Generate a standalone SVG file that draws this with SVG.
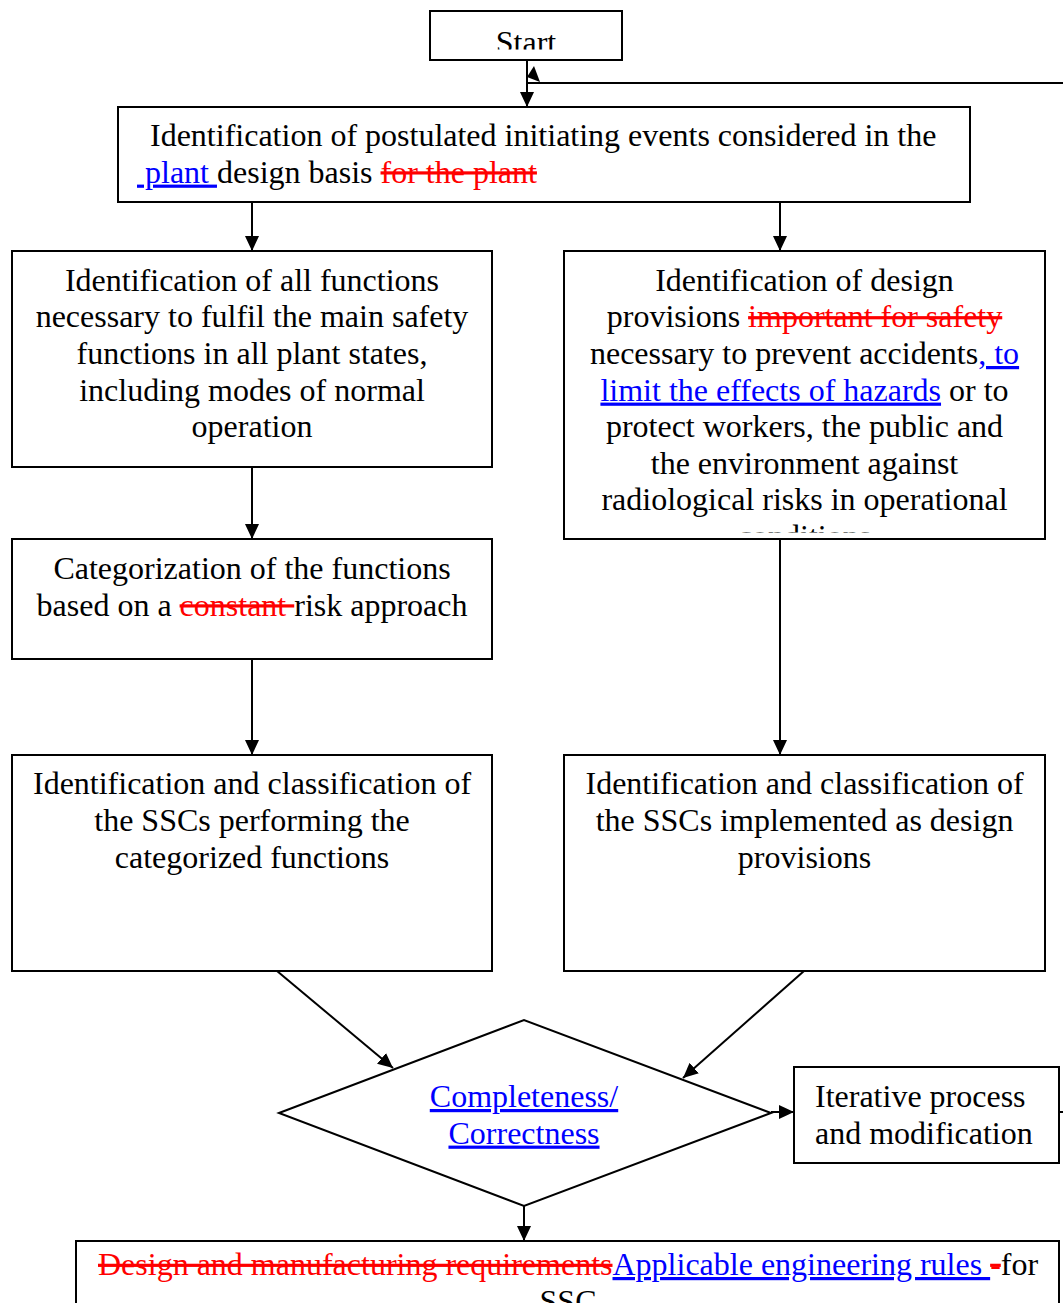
<svg xmlns="http://www.w3.org/2000/svg" width="1063" height="1303" viewBox="0 0 1063 1303">
<style>
.box{fill:#fff;stroke:#000;stroke-width:2}
.t{font-family:"Liberation Serif","Times New Roman",serif;font-size:32px;fill:#000;white-space:pre}
.c{text-anchor:middle}
.ins{fill:#0000ff;text-decoration:underline}
.del{fill:#ff0000;text-decoration:line-through}
.con{fill:none;stroke:#000;stroke-width:2}
</style>
<defs>
<marker id="ah" markerWidth="16" markerHeight="14" refX="15" refY="7" orient="auto" markerUnits="userSpaceOnUse"><path d="M0,0 L15,7 L0,14 z" fill="#000"/></marker>
<clipPath id="clipStart"><rect x="430" y="11" width="193" height="38.5"/></clipPath>
<clipPath id="clipR1"><rect x="564" y="251" width="481" height="281.5"/></clipPath>
</defs>

<g id="connectors">
<line class="con" x1="527" y1="60" x2="527" y2="107" marker-end="url(#ah)"/>
<line class="con" x1="252" y1="202" x2="252" y2="251" marker-end="url(#ah)"/>
<line class="con" x1="780" y1="202" x2="780" y2="251" marker-end="url(#ah)"/>
<line class="con" x1="252" y1="467" x2="252" y2="539" marker-end="url(#ah)"/>
<line class="con" x1="252" y1="659" x2="252" y2="755" marker-end="url(#ah)"/>
<line class="con" x1="780" y1="539" x2="780" y2="755" marker-end="url(#ah)"/>
<line class="con" x1="277" y1="971" x2="393" y2="1068" marker-end="url(#ah)"/>
<line class="con" x1="804" y1="971" x2="683" y2="1078" marker-end="url(#ah)"/>
<line class="con" x1="771" y1="1112" x2="794" y2="1112" marker-end="url(#ah)"/>
<line class="con" x1="524" y1="1206" x2="524" y2="1241" marker-end="url(#ah)"/>
<path class="con" d="M1059,1112 H1080 V83 H527"/>
<polygon points="527,77 534,66 540,82" fill="#000"/>
</g>

<g id="start">
<rect class="box" x="430" y="11" width="192" height="49"/>
<text class="t c" x="526" y="52.5" clip-path="url(#clipStart)">Start</text>
</g>

<g id="pie">
<rect class="box" x="118" y="107" width="852" height="95"/>
<text class="t" x="150" y="146">Identification of postulated initiating events considered in the</text>
<text class="t" x="137" y="182.6"><tspan class="ins"> plant </tspan>design basis <tspan class="del">for the plant</tspan></text>
</g>

<g id="functions">
<rect class="box" x="12" y="251" width="480" height="216"/>
<text class="t c" x="252" y="290.8">Identification of all functions</text>
<text class="t c" x="252" y="327.4">necessary to fulfil the main safety</text>
<text class="t c" x="252" y="364">functions in all plant states,</text>
<text class="t c" x="252" y="400.6">including modes of normal</text>
<text class="t c" x="252" y="437.2">operation</text>
</g>

<g id="provisions">
<rect class="box" x="564" y="251" width="481" height="288"/>
<g clip-path="url(#clipR1)">
<text class="t c" x="804.5" y="290.8">Identification of design</text>
<text class="t c" x="804.5" y="327.4">provisions <tspan class="del">important for safety</tspan></text>
<text class="t c" x="804.5" y="364">necessary to prevent accidents<tspan class="ins">, to</tspan></text>
<text class="t c" x="804.5" y="400.6"><tspan class="ins">limit the effects of hazards</tspan> or to</text>
<text class="t c" x="804.5" y="437.2">protect workers, the public and</text>
<text class="t c" x="804.5" y="473.8">the environment against</text>
<text class="t c" x="804.5" y="510.4">radiological risks in operational</text>
<text class="t c" x="804.5" y="547">conditions</text>
</g>
</g>

<g id="categorization">
<rect class="box" x="12" y="539" width="480" height="120"/>
<text class="t c" x="252" y="579">Categorization of the functions</text>
<text class="t c" x="252" y="615.6">based on a <tspan class="del">constant </tspan>risk approach</text>
</g>

<g id="ssc-functions">
<rect class="box" x="12" y="755" width="480" height="216"/>
<text class="t c" x="252" y="794">Identification and classification of</text>
<text class="t c" x="252" y="830.8">the SSCs performing the</text>
<text class="t c" x="252" y="867.6">categorized functions</text>
</g>

<g id="ssc-provisions">
<rect class="box" x="564" y="755" width="481" height="216"/>
<text class="t c" x="804.5" y="794">Identification and classification of</text>
<text class="t c" x="804.5" y="830.8">the SSCs implemented as design</text>
<text class="t c" x="804.5" y="867.6">provisions</text>
</g>

<g id="completeness">
<polygon class="box" points="279,1113 524,1020 771,1113 524,1206"/>
<text class="t c" x="524" y="1107"><tspan class="ins">Completeness/</tspan></text>
<text class="t c" x="524" y="1143.6"><tspan class="ins">Correctness</tspan></text>
</g>

<g id="iterative">
<rect class="box" x="794" y="1067" width="265" height="96"/>
<text class="t" x="815" y="1107">Iterative process</text>
<text class="t" x="815" y="1143.6">and modification</text>
</g>

<g id="requirements">
<rect class="box" x="76" y="1241" width="983" height="90"/>
<text class="t" x="98" y="1275"><tspan class="del">Design and manufacturing requirements</tspan><tspan class="ins">Applicable engineering rules </tspan><tspan class="del">-</tspan>for</text>
<text class="t c" x="568" y="1311.6">SSC</text>
</g>
</svg>
